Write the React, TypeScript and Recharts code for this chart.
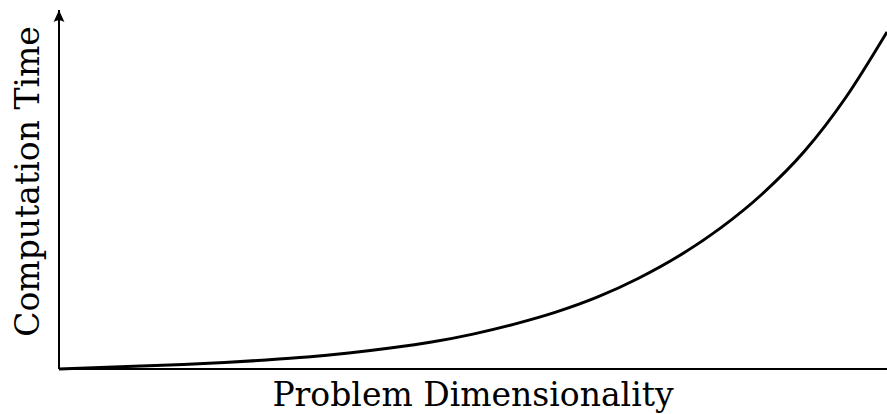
import { LineChart, Line, XAxis, YAxis, Label } from 'recharts';

// Dimension steps along the x axis and the measured computation time at each one
const dimensions = [0, 0.5, 1, 1.5, 2, 2.5, 3, 3.5, 4, 4.5, 5, 5.5, 6, 6.5, 7, 7.5, 8, 8.5, 9, 9.5, 10];
const computeTime = [0, 1.5, 3, 4.5, 6.5, 9, 12, 16, 21, 27, 35, 45, 57, 72, 91, 114, 142, 176, 218, 272, 338];

const xLabel = 'Problem Dimensionality';
const yLabel = 'Computation Time';

const data = dimensions.map((d, i) => ({ dim: d, time: computeTime[i] }));

const font = '"DejaVu Serif", serif';

export default function App() {
  return (
    <div style={{ position: 'absolute', left: 0, top: 0, width: 887, height: 414, background: '#fff' }}>
      <LineChart width={887} height={414} data={data} margin={{ top: 10, right: 0, bottom: 0, left: 0 }}>
        <defs>
          <marker
            id="axisArrow"
            viewBox="0 0 10 10"
            refX={10}
            refY={5}
            markerWidth={12}
            markerHeight={12}
            markerUnits="userSpaceOnUse"
            orient="auto-start-reverse"
          >
            <path d="M0,0.5 L10,5 L0,9.5 Q3,5 0,0.5 z" fill="#000" />
          </marker>
        </defs>
        <XAxis
          dataKey="dim"
          type="number"
          domain={[0, 10]}
          tick={false}
          tickLine={false}
          height={45}
          axisLine={{ stroke: '#000', strokeWidth: 2 }}
        >
          <Label
            value={xLabel}
            position="insideBottom"
            offset={8}
            style={{ fontFamily: font, fontSize: 33, fill: '#000' }}
          />
        </XAxis>
        <YAxis
          type="number"
          domain={[0, 360]}
          tick={false}
          tickLine={false}
          width={59}
          axisLine={{ stroke: '#000', strokeWidth: 2, markerStart: 'url(#axisArrow)' }}
        >
          <Label
            value={yLabel}
            position="center"
            angle={-90}
            dx={-2}
            dy={-8}
            style={{ fontFamily: font, fontSize: 33, fill: '#000' }}
          />
        </YAxis>
        <Line
          type="monotone"
          dataKey="time"
          stroke="#000"
          strokeWidth={3}
          dot={false}
          activeDot={false}
          isAnimationActive={false}
        />
      </LineChart>
    </div>
  );
}
